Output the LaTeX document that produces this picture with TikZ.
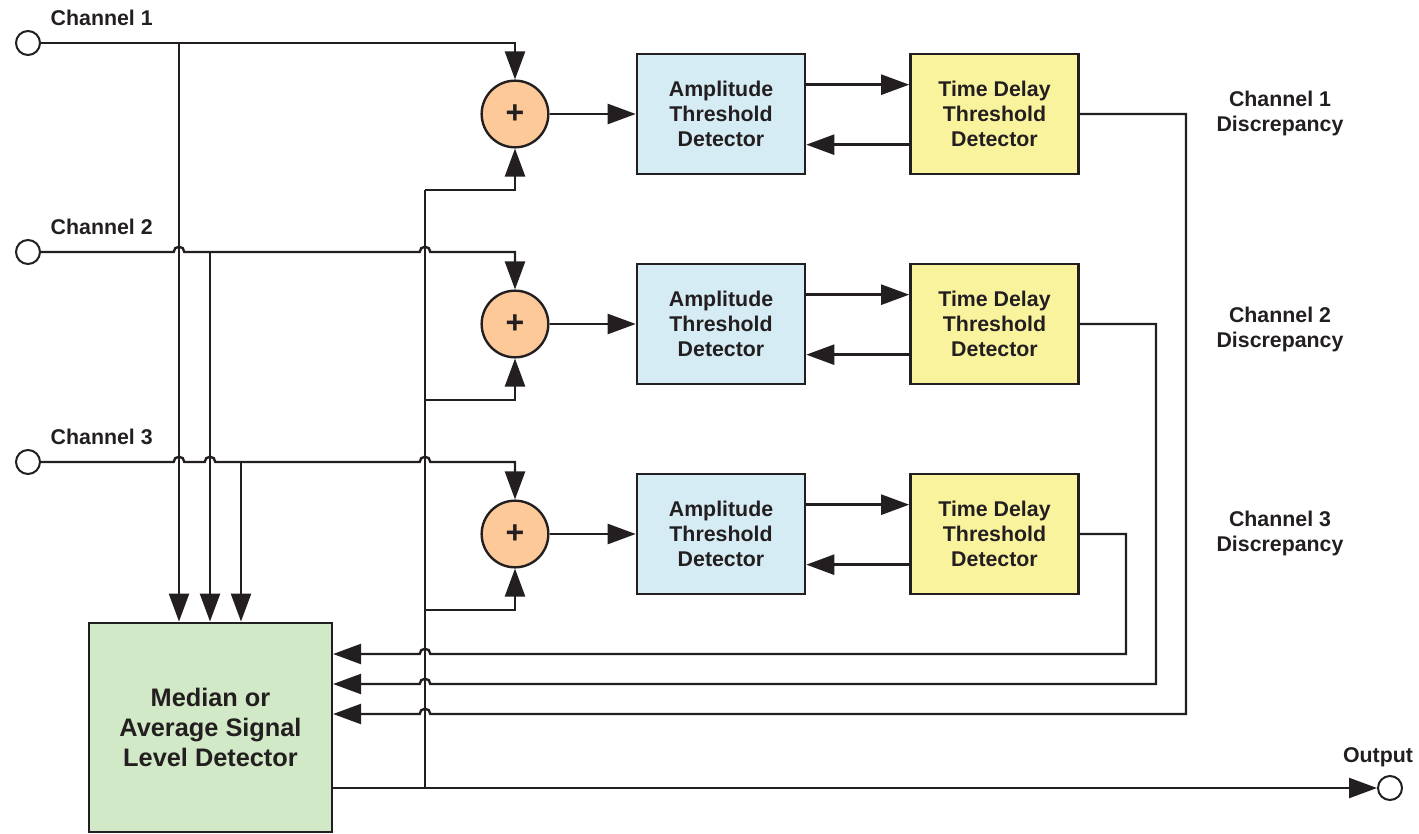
\documentclass[tikz,border=0pt]{standalone}
\usepackage{fontspec}
\setmainfont{Liberation Sans}
\usepackage{xcolor}
\usetikzlibrary{positioning,arrows.meta}

\definecolor{ink}{HTML}{231F20}
\definecolor{sumfill}{HTML}{FDC998}
\definecolor{ampfill}{HTML}{D5ECF4}
\definecolor{tdfill}{HTML}{FAF39E}
\definecolor{medfill}{HTML}{D2E9C7}

\begin{document}
\begin{tikzpicture}[x=0.75pt, y=-0.75pt,
    every node/.style={text=ink, font=\bfseries\fontsize{16}{18.75}\selectfont},
    wire/.style={draw=ink, line width=1.8pt},
    arr/.style={wire, -{Triangle[length=21pt, width=15pt]}},
    port/.style={circle, draw=ink, line width=1.5pt, fill=white, minimum size=18pt, inner sep=0pt},
    adder/.style={circle, draw=ink, line width=1.8pt, fill=sumfill, minimum size=50pt, inner sep=0pt,
        font=\bfseries\fontsize{24}{24}\selectfont},
    ampbox/.style={draw=ink, line width=1.9pt, fill=ampfill, minimum width=126pt, minimum height=90pt, align=center},
    tdbox/.style={ampbox, fill=tdfill},
    medbox/.style={draw=ink, line width=1.9pt, fill=medfill, minimum width=182pt, minimum height=157pt,
        align=center, font=\bfseries\fontsize{19}{22.5}\selectfont},
    lbl/.style={align=center}]
\useasboundingbox (0,0) rectangle (1419,834);

% inputs and output
\node[port] (in_1) at (28,43) {};
\node[port] (in_2) at (28,252) {};
\node[port] (in_3) at (28,462) {};
\node[anchor=west] (lbl_in1) at (46,18) {Channel 1};
\node[anchor=west] (lbl_in2) at (46,227) {Channel 2};
\node[anchor=west] (lbl_in3) at (46,437) {Channel 3};
\node[port] (out) at (1390,788) {};
\node (lbl_out) at (1378,757) {Output};

% adders and detectors
\node[adder] (sum_1) at (515,114) {+};
\node[adder] (sum_2) at (515,324) {+};
\node[adder] (sum_3) at (515,534) {+};
\node[ampbox] (amp_1) at (721,114) {Amplitude\\Threshold\\Detector};
\node[ampbox] (amp_2) at (721,324) {Amplitude\\Threshold\\Detector};
\node[ampbox] (amp_3) at (721,534) {Amplitude\\Threshold\\Detector};
\node[tdbox] (tdelay_1) at (994.5,114) {Time Delay\\Threshold\\Detector};
\node[tdbox] (tdelay_2) at (994.5,324) {Time Delay\\Threshold\\Detector};
\node[tdbox] (tdelay_3) at (994.5,534) {Time Delay\\Threshold\\Detector};
\node[medbox] (median) at (210.5,727.5) {Median or\\Average Signal\\Level Detector};

\node[lbl] (disc_1) at (1280,113) {Channel 1\\Discrepancy};
\node[lbl] (disc_2) at (1280,329) {Channel 2\\Discrepancy};
\node[lbl] (disc_3) at (1280,533) {Channel 3\\Discrepancy};

% taps to the median detector
\coordinate (tap_1) at (179,43);
\coordinate (tap_2) at (210,252);
\coordinate (tap_3) at (241,462);
\draw[arr] (tap_1) -- (tap_1 |- median.north);
\draw[arr] (tap_2) -- (tap_2 |- median.north);
\draw[arr] (tap_3) -- (tap_3 |- median.north);

% channel lines
\draw[arr] (in_1.east) -- (sum_1.north |- in_1) -- (sum_1);
\draw[arr] (in_2.east) -- ([xshift=-4pt]179,252) arc[start angle=180, end angle=0, radius=4pt]
    -- ([xshift=-4pt]425,252) arc[start angle=180, end angle=0, radius=4pt]
    -- (sum_2.north |- in_2) -- (sum_2);
\draw[arr] (in_3.east) -- ([xshift=-4pt]179,462) arc[start angle=180, end angle=0, radius=4pt]
    -- ([xshift=-4pt]210,462) arc[start angle=180, end angle=0, radius=4pt]
    -- ([xshift=-4pt]425,462) arc[start angle=180, end angle=0, radius=4pt]
    -- (sum_3.north |- in_3) -- (sum_3);

% output and feedback to the adders
\coordinate (fb) at (425,788);
\coordinate (fb_1) at (425,190);
\coordinate (fb_2) at (425,400);
\coordinate (fb_3) at (425,610);
\draw[arr] (median.east |- out) -- (out);
\draw[wire] (fb) -- (fb_1);
\draw[arr] (fb_1) -| (sum_1);
\draw[arr] (fb_2) -| (sum_2);
\draw[arr] (fb_3) -| (sum_3);

% detector chains
\foreach \i in {1,2,3} {
  \draw[arr] (sum_\i) -- (amp_\i);
  \draw[arr] ([yshift=22pt]amp_\i.east) -- ([yshift=22pt]tdelay_\i.west);
  \draw[arr] ([yshift=-23pt]tdelay_\i.west) -- ([yshift=-23pt]amp_\i.east);
}

% discrepancy lines back to the median detector
\draw[arr] (tdelay_1.east) -- (1186,114) -- (1186,714)
    -- ([xshift=4pt]425,714) arc[start angle=0, end angle=180, radius=4pt]
    -- (median.east |- 0,714);
\draw[arr] (tdelay_2.east) -- (1156,324) -- (1156,684)
    -- ([xshift=4pt]425,684) arc[start angle=0, end angle=180, radius=4pt]
    -- (median.east |- 0,684);
\draw[arr] (tdelay_3.east) -- (1126,534) -- (1126,654)
    -- ([xshift=4pt]425,654) arc[start angle=0, end angle=180, radius=4pt]
    -- (median.east |- 0,654);

\end{tikzpicture}
\end{document}
